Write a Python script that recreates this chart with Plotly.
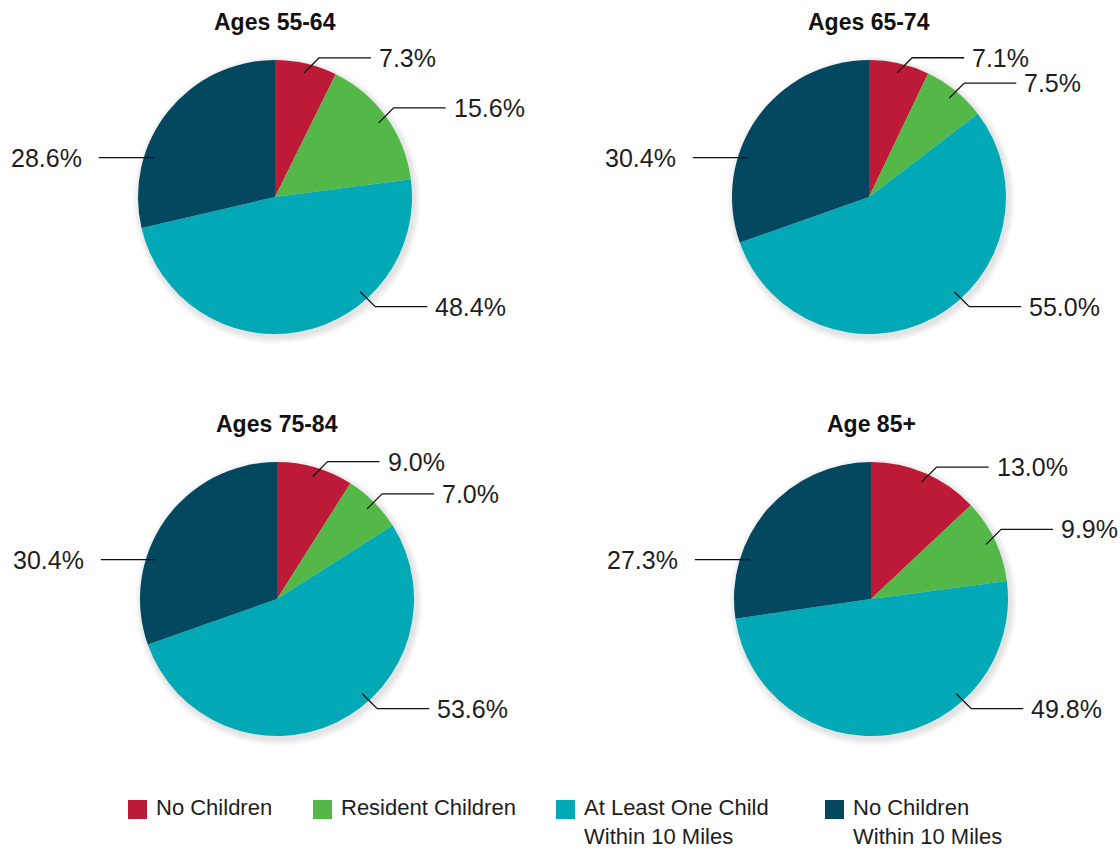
import math
import plotly.graph_objects as go

# ---------------- data ----------------
categories = [
    "No Children",
    "Resident Children",
    "At Least One Child<br>Within 10 Miles",
    "No Children<br>Within 10 Miles",
]
panel_titles = ["Ages 55-64", "Ages 65-74", "Ages 75-84", "Age 85+"]
share_55_64 = [7.3, 15.6, 48.4, 28.6]
share_65_74 = [7.1, 7.5, 55.0, 30.4]
share_75_84 = [9.0, 7.0, 53.6, 30.4]
share_85_plus = [13.0, 9.9, 49.8, 27.3]
series = [share_55_64, share_65_74, share_75_84, share_85_plus]

# ---------------- style / layout ----------------
colors = ["#BD1A37", "#54B848", "#00A9B5", "#03485F"]
FONT = "Liberation Sans, Arial, Helvetica, sans-serif"
TEXT = "#1e1e1e"
W, H = 1120, 852
R = 137
centers = [(275, 197), (869, 197), (277, 599), (871, 599)]
pref_angle = [None, None, 138, 288]   # preferred label anchor angle for large slices
legend_x = [128, 313, 556, 825]       # legend item left edges (px)
legend_top = 800
SQ = 19


def px(x):
    return x / W


def py(y):
    return 1 - y / H


fig = go.Figure()
shapes = []
annotations = []

for i, (vals, title) in enumerate(zip(series, panel_titles)):
    cx, cy = centers[i]

    # soft shadow behind the pie
    for k in range(1, 8):
        rr = R + k
        shapes.append(dict(
            type="circle", xref="paper", yref="paper", layer="below",
            x0=px(cx + 2 - rr), x1=px(cx + 2 + rr),
            y0=py(cy + 3 + rr), y1=py(cy + 3 - rr),
            fillcolor="rgba(0,0,0,0.016)", line=dict(width=0),
        ))

    fig.add_trace(go.Pie(
        labels=categories, values=vals, sort=False,
        direction="clockwise", rotation=0,
        marker=dict(colors=colors, line=dict(width=0)),
        textinfo="none", hoverinfo="label+percent",
        domain=dict(x=[px(cx - R), px(cx + R)], y=[py(cy + R), py(cy - R)]),
        showlegend=False, name=title,
    ))

    annotations.append(dict(
        text="<b>%s</b>" % title, x=px(cx), y=py(cy - R - 38),
        xref="paper", yref="paper", xanchor="center", yanchor="middle",
        showarrow=False, font=dict(family=FONT, size=23, color="#111"),
    ))

    total = sum(vals)
    start = 0.0
    for j, v in enumerate(vals):
        a0 = start / total * 360
        a1 = (start + v) / total * 360
        start += v
        if pref_angle[j] is None:
            ang = (a0 + a1) / 2
        else:
            ang = min(max(pref_angle[j], a0 + 10), a1 - 10)
        t = math.radians(ang)
        ax = cx + 0.93 * R * math.sin(t)
        ay = cy - 0.93 * R * math.cos(t)
        if math.sin(t) >= 0:
            dy = -15 if math.cos(t) > 0 else 15
            ex, ey = ax + 15, ay + dy
            hx = ex + 52
            path = "M %f %f L %f %f L %f %f" % (px(ax), py(ay), px(ex), py(ey), px(hx), py(ey))
            lx, ly, anchor = hx + 6, ey, "left"
        else:
            hx = ax - 55
            path = "M %f %f L %f %f" % (px(ax), py(ay), px(hx), py(ay))
            lx, ly, anchor = hx - 15, ay, "right"
        shapes.append(dict(type="path", path=path, xref="paper", yref="paper",
                           layer="above", line=dict(color="#111", width=1.3)))
        annotations.append(dict(
            text="%.1f%%" % v, x=px(lx), y=py(ly), xref="paper", yref="paper",
            xanchor=anchor, yanchor="middle", showarrow=False,
            font=dict(family=FONT, size=25, color=TEXT),
        ))

# legend (colour squares + labels), built from categories / colors
for j, (name, col) in enumerate(zip(categories, colors)):
    lx0 = legend_x[j]
    shapes.append(dict(
        type="rect", xref="paper", yref="paper", layer="above",
        x0=px(lx0), x1=px(lx0 + SQ), y0=py(legend_top + SQ), y1=py(legend_top),
        fillcolor=col, line=dict(width=0),
    ))
    annotations.append(dict(
        text=name, x=px(lx0 + SQ + 8), y=py(legend_top - 6),
        xref="paper", yref="paper", xanchor="left", yanchor="top", align="left",
        borderpad=0, showarrow=False,
        font=dict(family=FONT, size=22, color=TEXT),
    ))

fig.update_layout(
    width=W, height=H,
    margin=dict(l=0, r=0, t=0, b=0),
    paper_bgcolor="white", plot_bgcolor="white",
    font=dict(family=FONT, color=TEXT),
    shapes=shapes, annotations=annotations,
    showlegend=False,
)

fig.write_html("out.html", config={"displayModeBar": False},
               post_script="document.body.style.margin='0';")
